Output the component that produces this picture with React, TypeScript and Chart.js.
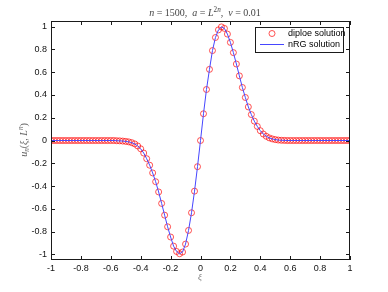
import React, { useEffect, useRef } from "react";
import { Chart, registerables } from "chart.js";

Chart.register(...registerables);

const xi = [
  -1.0, -0.98, -0.96, -0.94, -0.92, -0.9, -0.88, -0.86, -0.84, -0.82, -0.8, -0.78, -0.76, -0.74, -0.72, -0.7, -0.68,
  -0.66, -0.64, -0.62, -0.6, -0.58, -0.56, -0.54, -0.52, -0.5, -0.48, -0.46, -0.44, -0.42, -0.4, -0.38, -0.36, -0.34,
  -0.32, -0.3, -0.28, -0.26, -0.24, -0.22, -0.2, -0.18, -0.16, -0.14, -0.12, -0.1, -0.08, -0.06, -0.04, -0.02, 0.0,
  0.02, 0.04, 0.06, 0.08, 0.1, 0.12, 0.14, 0.16, 0.18, 0.2, 0.22, 0.24, 0.26, 0.28, 0.3, 0.32, 0.34, 0.36, 0.38, 0.4,
  0.42, 0.44, 0.46, 0.48, 0.5, 0.52, 0.54, 0.56, 0.58, 0.6, 0.62, 0.64, 0.66, 0.68, 0.7, 0.72, 0.74, 0.76, 0.78, 0.8,
  0.82, 0.84, 0.86, 0.88, 0.9, 0.92, 0.94, 0.96, 0.98, 1.0,
];

const diploe = [
  0, 0, 0, 0, 0, 0, 0, 0, 0, 0, 0, 0, 0, 0, 0, 0, 0, 0, 0, 0, 0, 0,
  -0.002, -0.003, -0.005, -0.008, -0.012, -0.019, -0.03, -0.048, -0.073, -0.11, -0.16, -0.217, -0.285, -0.362,
  -0.452, -0.553, -0.656, -0.758, -0.848, -0.928, -0.975, -0.995, -0.98, -0.91, -0.79, -0.635, -0.445, -0.23, 0.0,
  0.235, 0.448, 0.625, 0.79, 0.905, 0.972, 0.998, 0.985, 0.935, 0.862, 0.772, 0.672, 0.568, 0.466, 0.378, 0.295,
  0.228, 0.17, 0.124, 0.086, 0.057, 0.037, 0.023, 0.014, 0.008, 0.004, 0.002, 0.001,
  0, 0, 0, 0, 0, 0, 0, 0, 0, 0, 0, 0, 0, 0, 0, 0, 0, 0, 0, 0, 0, 0,
];

const nrg = [
  0, 0, 0, 0, 0, 0, 0, 0, 0, 0, 0, 0, 0, 0, 0, 0, 0, 0, 0, 0, 0, 0,
  -0.002, -0.003, -0.005, -0.008, -0.012, -0.019, -0.03, -0.048, -0.073, -0.11, -0.16, -0.217, -0.285, -0.362,
  -0.452, -0.553, -0.656, -0.758, -0.848, -0.928, -0.975, -0.995, -0.98, -0.91, -0.79, -0.635, -0.445, -0.23, 0.0,
  0.235, 0.448, 0.625, 0.79, 0.905, 0.972, 0.998, 0.985, 0.935, 0.862, 0.772, 0.672, 0.568, 0.466, 0.378, 0.295,
  0.228, 0.17, 0.124, 0.086, 0.057, 0.037, 0.023, 0.014, 0.008, 0.004, 0.002, 0.001,
  0, 0, 0, 0, 0, 0, 0, 0, 0, 0, 0, 0, 0, 0, 0, 0, 0, 0, 0, 0, 0, 0,
];

const xTicks = [-1, -0.8, -0.6, -0.4, -0.2, 0, 0.2, 0.4, 0.6, 0.8, 1];
const yTicks = [-1, -0.8, -0.6, -0.4, -0.2, 0, 0.2, 0.4, 0.6, 0.8, 1];
const legendLabels = ["diploe solution", "nRG solution"];

const SANS = "'Liberation Sans', Arial, sans-serif";
const SERIF = "'Liberation Serif', 'DejaVu Serif', serif";

type Seg = { t: string; it?: boolean; sup?: boolean; sub?: boolean };

function drawSegs(ctx: CanvasRenderingContext2D, segs: Seg[], cx: number, cy: number, size: number) {
  const fontFor = (s: Seg) => `${s.it ? "italic " : ""}${s.sup || s.sub ? size * 0.72 : size}px ${SERIF}`;
  let total = 0;
  for (const s of segs) {
    ctx.font = fontFor(s);
    total += ctx.measureText(s.t).width;
  }
  let x = cx - total / 2;
  ctx.textAlign = "left";
  ctx.textBaseline = "alphabetic";
  for (const s of segs) {
    ctx.font = fontFor(s);
    const dy = s.sup ? -size * 0.38 : s.sub ? size * 0.22 : 0;
    ctx.fillText(s.t, x, cy + dy);
    x += ctx.measureText(s.t).width;
  }
}

const decorPlugin = {
  id: "decor",
  afterDraw(chart: any) {
    const ctx: CanvasRenderingContext2D = chart.ctx;
    const { left, right, top, bottom } = chart.chartArea;
    const xs = chart.scales.x;
    const ys = chart.scales.y;
    ctx.save();
    ctx.strokeStyle = "#1a1a1a";
    ctx.lineWidth = 1;
    ctx.strokeRect(Math.round(left) + 0.5, Math.round(top) + 0.5, Math.round(right - left) - 1, Math.round(bottom - top) - 1);
    ctx.beginPath();
    const tl = 4;
    for (const v of xTicks) {
      const px = Math.round(xs.getPixelForValue(v)) + 0.5;
      ctx.moveTo(px, bottom);
      ctx.lineTo(px, bottom - tl);
      ctx.moveTo(px, top);
      ctx.lineTo(px, top + tl);
    }
    for (const v of yTicks) {
      const py = Math.round(ys.getPixelForValue(v)) + 0.5;
      ctx.moveTo(left, py);
      ctx.lineTo(left + tl, py);
      ctx.moveTo(right, py);
      ctx.lineTo(right - tl, py);
    }
    ctx.stroke();

    // legend
    const lx = 255, ly = 27, lw = 88, lh = 25;
    ctx.fillStyle = "#ffffff";
    ctx.fillRect(lx, ly, lw, lh);
    ctx.strokeStyle = "#1a1a1a";
    ctx.strokeRect(lx + 0.5, ly + 0.5, lw, lh);
    ctx.strokeStyle = "rgba(255,0,0,0.85)";
    ctx.lineWidth = 0.8;
    ctx.beginPath();
    ctx.arc(272, 33.5, 3, 0, Math.PI * 2);
    ctx.stroke();
    ctx.strokeStyle = "rgb(70,70,255)";
    ctx.lineWidth = 1;
    ctx.beginPath();
    ctx.moveTo(260, 44.5);
    ctx.lineTo(284, 44.5);
    ctx.stroke();
    ctx.fillStyle = "#000";
    ctx.font = `9px ${SANS}`;
    ctx.textAlign = "left";
    ctx.textBaseline = "middle";
    ctx.fillText(legendLabels[0], 288, 33.5);
    ctx.fillText(legendLabels[1], 288, 44.5);

    // title
    ctx.fillStyle = "#444";
    drawSegs(
      ctx,
      [
        { t: "n", it: true },
        { t: " = 1500,  " },
        { t: "a", it: true },
        { t: " = " },
        { t: "L", it: true },
        { t: "2", sup: true },
        { t: "n", it: true, sup: true },
        { t: ",  " },
        { t: "ν", it: true },
        { t: " = 0.01" },
      ],
      205,
      16,
      10
    );

    // x label
    ctx.fillStyle = "#777";
    drawSegs(ctx, [{ t: "ξ", it: true }], 200, 280, 9);

    // y label
    ctx.save();
    ctx.translate(24, 140);
    ctx.rotate(-Math.PI / 2);
    ctx.fillStyle = "#666";
    drawSegs(
      ctx,
      [
        { t: "u", it: true },
        { t: "n", it: true, sub: true },
        { t: "(" },
        { t: "ξ", it: true },
        { t: ", " },
        { t: "L", it: true },
        { t: "n", it: true, sup: true },
        { t: ")" },
      ],
      0,
      3,
      10
    );
    ctx.restore();
    ctx.restore();
  },
};

const fmt = (v: number) => {
  const r = Math.round(v * 10) / 10;
  return r === 0 ? "0" : String(r);
};

export default function App() {
  const ref = useRef<HTMLCanvasElement | null>(null);
  useEffect(() => {
    if (!ref.current) return;
    const chart = new Chart(ref.current, {
      type: "line",
      data: {
        datasets: [
          {
            label: legendLabels[1],
            data: xi.map((x, i) => ({ x, y: nrg[i] })),
            borderColor: "rgb(70,70,255)",
            borderWidth: 1,
            pointRadius: 0,
            tension: 0,
            fill: false,
          },
          {
            label: legendLabels[0],
            data: xi.map((x, i) => ({ x, y: diploe[i] })),
            showLine: false,
            pointRadius: 3,
            pointStyle: "circle",
            pointBorderColor: "rgba(255,0,0,0.85)",
            pointBackgroundColor: "rgba(0,0,0,0)",
            pointBorderWidth: 0.8,
            borderColor: "rgb(255,0,0)",
          },
        ],
      },
      options: {
        animation: false,
        responsive: false,
        devicePixelRatio: 1,
        layout: { padding: { left: 0, right: 38, top: 21, bottom: 0 } },
        plugins: { legend: { display: false }, tooltip: { enabled: false }, title: { display: false } },
        scales: {
          x: {
            type: "linear",
            min: -1,
            max: 1,
            grid: { display: false, drawTicks: false },
            border: { display: false },
            afterBuildTicks: (s: any) => {
              s.ticks = xTicks.map((v) => ({ value: v }));
            },
            afterFit: (s: any) => {
              s.height = 32;
            },
            ticks: {
              autoSkip: false,
              maxRotation: 0,
              padding: 3,
              color: "#111",
              font: { family: SANS, size: 9 },
              callback: (v: any) => fmt(Number(v)),
            },
          },
          y: {
            type: "linear",
            min: -1.05,
            max: 1.05,
            grid: { display: false, drawTicks: false },
            border: { display: false },
            afterBuildTicks: (s: any) => {
              s.ticks = yTicks.map((v) => ({ value: v }));
            },
            afterFit: (s: any) => {
              s.width = 51;
            },
            ticks: {
              autoSkip: false,
              padding: 4,
              color: "#111",
              font: { family: SANS, size: 9 },
              callback: (v: any) => fmt(Number(v)),
            },
          },
        },
      },
      plugins: [decorPlugin],
    });
    return () => chart.destroy();
  }, []);
  return (
    <div style={{ position: "fixed", left: 0, top: 0, width: 388, height: 292, background: "#fff" }}>
      <canvas ref={ref} width={388} height={292} style={{ width: 388, height: 292, display: "block" }} />
    </div>
  );
}
